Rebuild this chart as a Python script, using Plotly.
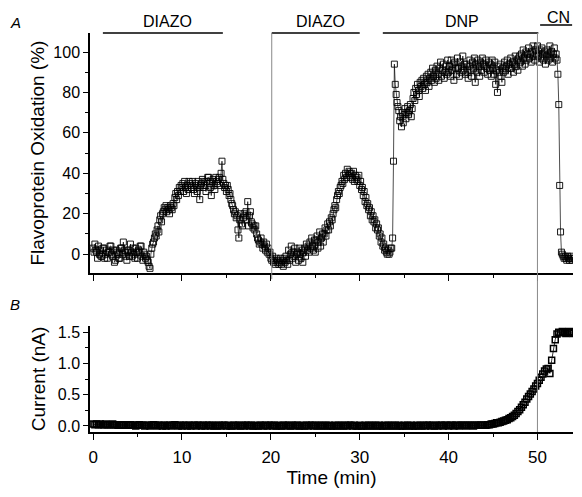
import plotly.graph_objects as go

# ---- data ----
# panel A: one sample every 0.1 min, 0 .. 54 min
flavo_interval_min = 0.1
flavo_oxidation_pct = [
    3, 1, 5, 2, 1, -2, 4, 0, 2, -1,
    -1, 3, 3, -2, 0, 2, -2, 1, 1, 4,
    4, 0, -1, 2, -4, -3, 2, 1, 0, -2,
    -2, 3, 3, 0, 6, 2, 1, -1, -3, 1,
    2, -1, 5, 1, -1, 3, 0, -2, 3, 1,
    -2, 2, 1, 4, 4, -1, -3, 1, 0, -2,
    -1, -3, -4, -6, -7, 0, 3, 5, 6, 8,
    10, 9, 12, 14, 11, 17, 19, 16, 20, 21,
    23, 22, 24, 21, 23, 22, 20, 24, 23, 22,
    25, 24, 28, 30, 27, 31, 29, 33, 31, 34,
    33, 35, 31, 36, 33, 30, 34, 32, 36, 35,
    34, 33, 36, 32, 30, 35, 34, 31, 36, 33,
    27, 34, 35, 37, 33, 36, 34, 31, 36, 38,
    38, 35, 33, 29, 36, 37, 34, 32, 38, 36,
    35, 37, 38, 34, 40, 46, 37, 35, 33, 34,
    31, 34, 32, 29, 30, 27, 25, 24, 22, 20,
    21, 18, 19, 12, 8, 17, 20, 15, 14, 18,
    20, 19, 21, 17, 26, 14, 19, 21, 16, 15,
    13, 14, 12, 14, 10, 8, 7, 5, 6, 8,
    5, 3, 6, 4, 2, 5, 1, 3, 0, 1,
    -2, -3, -1, -4, -3, -5, -2, -4, -3, -5,
    -4, -2, -5, -3, -6, -2, -4, -1, -3, -5,
    2, -3, 0, 4, -2, 1, -1, 3, -4, 0,
    1, -3, 3, 0, -2, 2, -4, 1, 3, -1,
    5, 2, 4, 1, 6, 3, 8, 4, 2, 7,
    1, 7, 9, 3, 6, 11, 4, 8, 10, 6,
    10, 13, 9, 12, 15, 12, 16, 14, 18, 17,
    20, 22, 24, 23, 27, 29, 31, 30, 33, 34,
    36, 35, 39, 37, 40, 38, 42, 39, 41, 40,
    38, 40, 37, 41, 36, 39, 37, 38, 36, 39,
    34, 36, 32, 33, 29, 31, 26, 28, 24, 25,
    22, 23, 19, 21, 17, 19, 16, 17, 13, 15,
    12, 13, 9, 10, 6, 8, 4, 5, 2, 3,
    1, 0, 2, 0, 1, 3, 3, 8, 46, 94,
    84, 79, 75, 73, 71, 66, 68, 63, 70, 65,
    69, 72, 67, 70, 73, 69, 71, 74, 68, 72,
    77, 80, 76, 82, 79, 84, 81, 78, 85, 83,
    86, 82, 87, 84, 81, 88, 85, 89, 83, 87,
    90, 86, 92, 88, 85, 91, 87, 93, 89, 86,
    92, 95, 88, 91, 94, 87, 90, 93, 89, 96,
    90, 93, 88, 96, 91, 94, 86, 95, 92, 89,
    97, 92, 88, 95, 90, 93, 98, 91, 94, 89,
    94, 90, 87, 93, 96, 91, 88, 95, 92, 97,
    85, 94, 90, 96, 93, 88, 95, 91, 97, 94,
    90, 93, 96, 92, 89, 95, 91, 94, 88, 96,
    92, 89, 95, 84, 91, 80, 93, 90, 94, 88,
    85, 92, 90, 95, 91, 93, 96, 89, 94, 92,
    97, 92, 95, 90, 94, 98, 93, 96, 91, 97,
    98, 95, 99, 93, 101, 97, 94, 100, 96, 99,
    102, 97, 99, 95, 100, 103, 98, 96, 101, 99,
    103, 98, 95, 101, 97, 102, 99, 96, 100, 94,
    98, 101, 96, 99, 103, 97, 100, 95, 99, 102,
    97, 99, 96, 89, 74, 34, 11, 1, 0, -1,
    -2, -1, -2, -3, -1, -2, -3, -2, -1, -3,
    -2,
]
flavo_time_min = [round(i * flavo_interval_min, 1) for i in range(len(flavo_oxidation_pct))]

# panel B: one sample every 0.2 min, 0 .. 54 min
current_interval_min = 0.2
current_nA = [
    0.03, 0.02, 0.03, 0.02, 0.03, 0.02, 0.02, 0.03, 0.02, 0.02,
    0.02, 0.03, 0.02, 0.02, 0.01, 0.02, 0.02, 0.01, 0.02, 0.01,
    0.01, 0.02, 0.01, 0.01, 0.00, 0.01, 0.02, 0.01, 0.01, 0.00,
    0.01, 0.01, 0.00, 0.01, 0.02, 0.01, 0.00, 0.01, 0.01, 0.00,
    0.01, 0.00, 0.01, 0.01, 0.00, 0.01, 0.02, 0.01, 0.00, 0.01,
    0.00, 0.01, 0.01, 0.00, 0.01, 0.00, 0.01, 0.01, 0.00, 0.01,
    0.01, 0.00, 0.01, 0.00, 0.01, 0.01, 0.00, 0.01, 0.00, 0.01,
    0.00, 0.01, 0.00, 0.01, 0.01, 0.00, 0.01, 0.00, 0.00, 0.01,
    0.01, 0.00, 0.01, 0.00, 0.01, 0.00, 0.01, 0.01, 0.00, 0.01,
    0.00, 0.01, 0.00, 0.00, 0.01, 0.01, 0.00, 0.01, 0.00, 0.01,
    0.01, 0.00, 0.01, 0.00, 0.01, 0.00, 0.00, 0.01, 0.01, 0.00,
    0.01, 0.00, 0.01, 0.00, 0.01, 0.01, 0.00, 0.00, 0.01, 0.00,
    0.01, 0.00, 0.01, 0.01, 0.00, 0.01, 0.00, 0.01, 0.00, 0.01,
    0.00, 0.01, 0.00, 0.01, 0.00, 0.00, 0.01, 0.00, 0.01, 0.00,
    0.01, 0.00, 0.01, 0.00, 0.01, 0.01, 0.00, 0.01, 0.00, 0.00,
    0.01, 0.00, 0.00, 0.01, 0.00, 0.01, 0.00, 0.01, 0.00, 0.01,
    0.00, 0.01, 0.00, 0.00, 0.01, 0.00, 0.01, 0.00, 0.01, 0.00,
    0.01, 0.00, 0.01, 0.00, 0.00, 0.01, 0.00, 0.01, 0.00, 0.01,
    0.00, 0.00, 0.01, 0.00, 0.01, 0.00, 0.01, 0.00, 0.01, 0.01,
    0.00, 0.01, 0.00, 0.01, 0.00, 0.01, 0.01, 0.00, 0.01, 0.01,
    0.00, 0.01, 0.01, 0.00, 0.01, 0.01, 0.00, 0.01, 0.01, 0.01,
    0.00, 0.01, 0.01, 0.01, 0.00, 0.01, 0.01, 0.01, 0.01, 0.01,
    0.01, 0.01, 0.02, 0.02, 0.03, 0.03, 0.04, 0.05, 0.05, 0.06,
    0.07, 0.08, 0.09, 0.10, 0.12, 0.13, 0.15, 0.17, 0.20, 0.23,
    0.26, 0.30, 0.34, 0.38, 0.43, 0.47, 0.51, 0.55, 0.59, 0.64,
    0.68, 0.73, 0.78, 0.83, 0.88, 0.91, 0.92, 0.84, 1.05, 1.24,
    1.38, 1.47, 1.50, 1.49, 1.51, 1.50, 1.48, 1.50, 1.51, 1.49, 1.48,
]
current_time_min = [round(i * current_interval_min, 1) for i in range(len(current_nA))]

# drug application periods
drug_labels = ["DIAZO", "DIAZO", "DNP", "CN"]
drug_start = [1.1, 20.1, 32.6, 50.3]
drug_end = [14.6, 30.0, 50.1, 53.9]
drug_label_x = [8.4, 25.6, 41.5, 52.4]
marker_lines_x = [20.1, 50.0]

# ---- figure ----
FONT = "Liberation Sans, Arial, sans-serif"
PAGE_OFFSET = 8            # default page margin the figure sits inside
W, H = 582 - PAGE_OFFSET, 497 - PAGE_OFFSET
ML, MR, MT, MB = 90 - PAGE_OFFSET, 9, 33 - PAGE_OFFSET, 65
fig = go.Figure()

fig.add_trace(go.Scatter(
    x=flavo_time_min, y=flavo_oxidation_pct, mode="lines+markers",
    line=dict(color="black", width=0.7),
    marker=dict(symbol="square-open", size=6, color="black", line=dict(width=0.9)),
    xaxis="x", yaxis="y", showlegend=False))

fig.add_trace(go.Scatter(
    x=current_time_min, y=current_nA, mode="lines+markers",
    line=dict(color="black", width=0.8),
    marker=dict(symbol="square-open", size=6, color="black", line=dict(width=1.5)),
    xaxis="x2", yaxis="y2", showlegend=False))

top_dom = [0.398, 1.0]
bot_dom = [0.0, 0.266]

common_x = dict(range=[-0.35, 54.0], showline=True, linecolor="black", linewidth=1.5,
                ticks="outside", ticklen=6, tickwidth=1.2, tickcolor="black",
                tickvals=[0, 10, 20, 30, 40, 50], showgrid=False, zeroline=False,
                automargin=False,
                minor=dict(tickvals=[5, 15, 25, 35, 45], ticks="outside", ticklen=3,
                           tickwidth=1.2, tickcolor="black", showgrid=False))

fig.update_layout(
    width=W, height=H,
    margin=dict(l=ML, r=MR, t=MT, b=MB),
    paper_bgcolor="white", plot_bgcolor="white",
    font=dict(family=FONT, color="black", size=16),
    xaxis=dict(common_x, anchor="y", showticklabels=False),
    xaxis2=dict(common_x, anchor="y2", matches="x",
                tickfont=dict(size=17), ticklabelstandoff=3,
                title=dict(text="Time (min)", font=dict(size=19), standoff=2)),
    yaxis=dict(domain=top_dom, range=[-9.4, 109.4], showline=True, linecolor="black",
               linewidth=1.5, ticks="outside", ticklen=5, tickwidth=1.2, tickcolor="black",
               tickvals=[0, 20, 40, 60, 80, 100], showgrid=False, zeroline=False,
               tickfont=dict(size=16), automargin=False,
               minor=dict(tickvals=[10, 30, 50, 70, 90], ticks="outside", ticklen=3,
                          tickwidth=1.2, tickcolor="black", showgrid=False),
               title=dict(text="Flavoprotein Oxidation (%)", font=dict(size=19), standoff=4)),
    yaxis2=dict(domain=bot_dom, range=[-0.096, 1.6], showline=True, linecolor="black",
                linewidth=1.5, ticks="outside", ticklen=5, tickwidth=1.2, tickcolor="black",
                tickvals=[0, 0.5, 1.0, 1.5], ticktext=["0.0", "0.5", "1.0", "1.5"],
                showgrid=False, zeroline=False, tickfont=dict(size=16), automargin=False,
                minor=dict(tickvals=[0.25, 0.75, 1.25], ticks="outside", ticklen=3,
                           tickwidth=1.2, tickcolor="black", showgrid=False),
                title=dict(text="Current (nA)", font=dict(size=19), standoff=7)),
)

plot_h = H - MT - MB
plot_w = W - ML - MR


def px_to_paper(x_px, y_px):
    """window pixel position -> paper coordinates"""
    x_fig, y_fig = x_px - PAGE_OFFSET, y_px - PAGE_OFFSET
    return (x_fig - ML) / plot_w, (H - MB - y_fig) / plot_h


shapes = []
annotations = []
for lab, s, e, lx in zip(drug_labels, drug_start, drug_end, drug_label_x):
    ybar = px_to_paper(0, 25)[1] if lab == "CN" else 1.0
    ytxt = px_to_paper(0, 18)[1] if lab == "CN" else px_to_paper(0, 22)[1]
    shapes.append(dict(type="line", xref="x", yref="paper", x0=s, x1=e, y0=ybar, y1=ybar,
                       line=dict(color="black", width=1.6)))
    annotations.append(dict(x=lx, y=ytxt, xref="x", yref="paper", text=lab,
                            showarrow=False, yanchor="middle",
                            font=dict(size=16, family=FONT, color="black")))

shapes.append(dict(type="line", xref="x", yref="paper", x0=marker_lines_x[0], x1=marker_lines_x[0],
                   y0=top_dom[0] - 0.015, y1=1.0, line=dict(color="#888888", width=1)))
shapes.append(dict(type="line", xref="x", yref="paper", x0=marker_lines_x[1], x1=marker_lines_x[1],
                   y0=0.0, y1=1.0, line=dict(color="#888888", width=1)))

for letter, (lx, ly) in (("A", (15, 23)), ("B", (15, 304))):
    px, py = px_to_paper(lx, ly)
    annotations.append(dict(x=px, y=py, xref="paper", yref="paper", text="<i>%s</i>" % letter,
                            showarrow=False, xanchor="center", yanchor="middle",
                            font=dict(size=15, family=FONT)))

fig.update_layout(shapes=shapes, annotations=annotations)

fig.write_html("out.html")
